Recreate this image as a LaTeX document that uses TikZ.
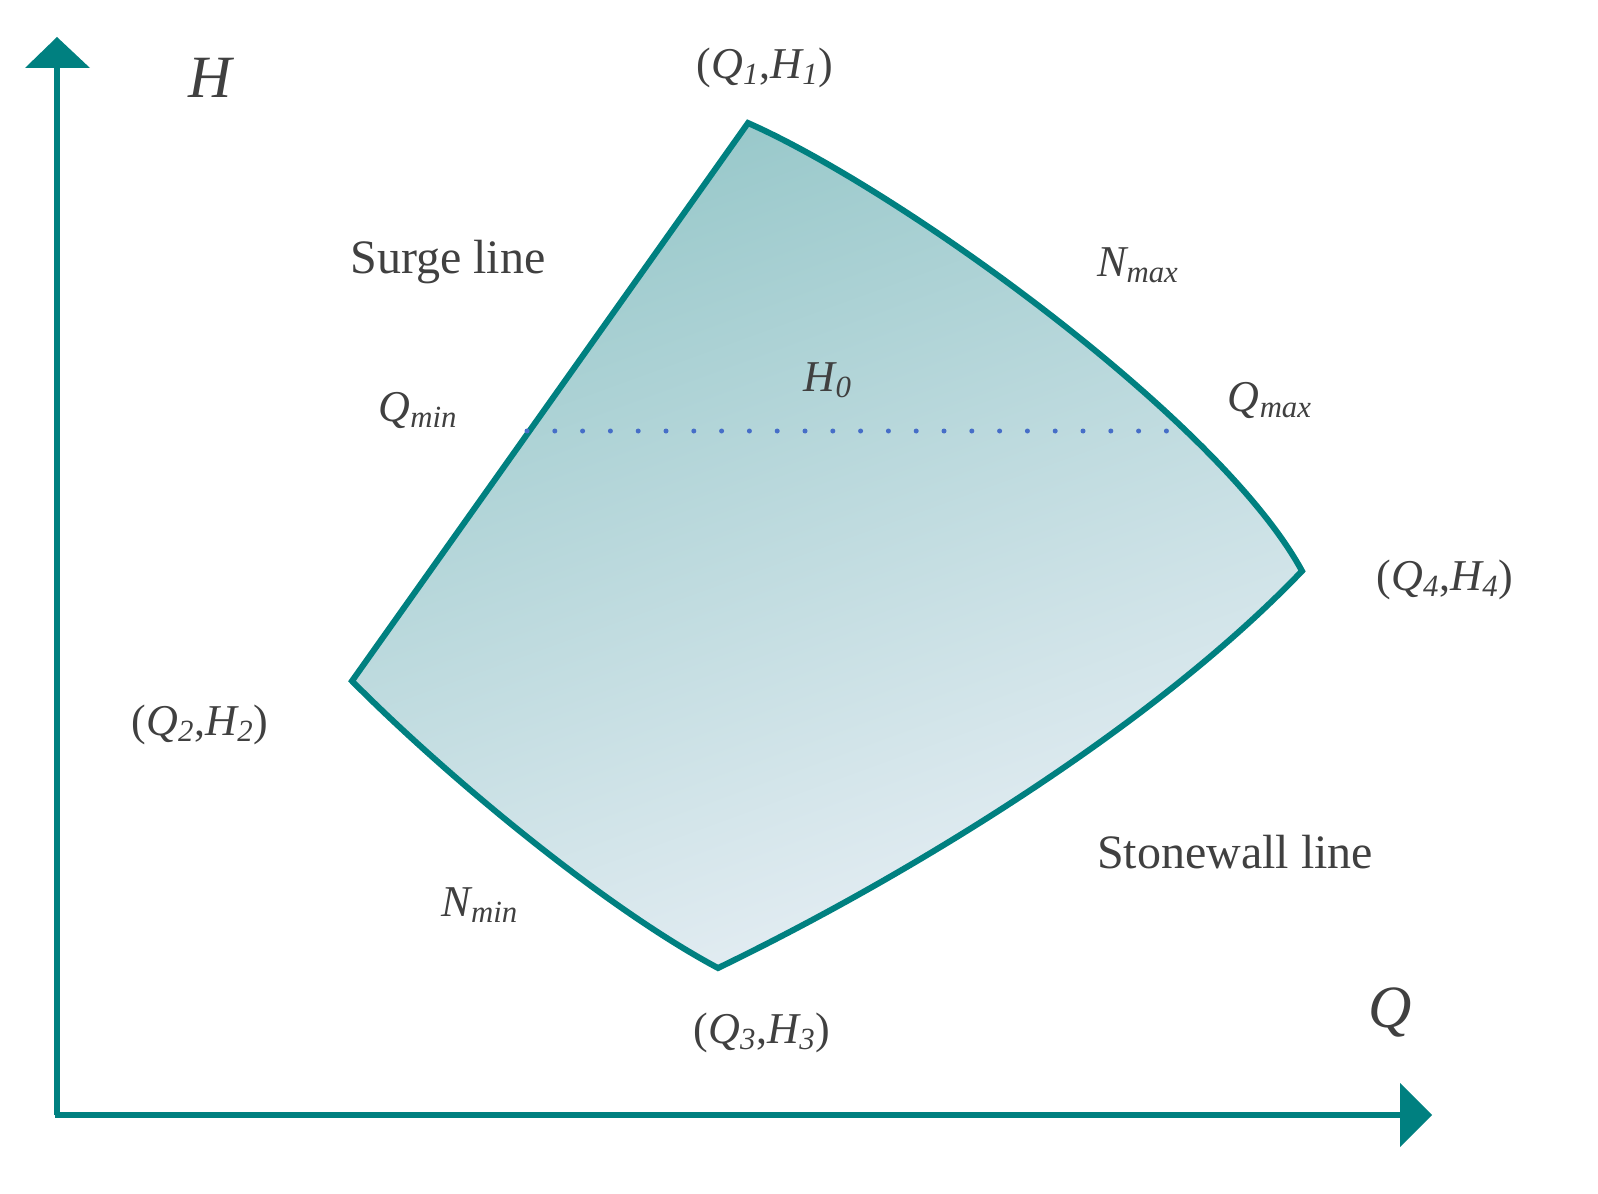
\documentclass[tikz,border=0pt]{standalone}
\usepackage{fontspec}
\setmainfont{Liberation Serif}
\definecolor{teal1}{RGB}{0,128,128}
\definecolor{topc}{RGB}{152,200,202}
\definecolor{botc}{RGB}{232,239,245}
\definecolor{dotc}{RGB}{70,110,200}
\begin{document}
\begin{tikzpicture}[x=0.5pt,y=-0.5pt,
  lab/.style={font=\fontsize{22}{26}\selectfont\itshape, text=black!75},
  txt/.style={font=\fontsize{24}{28}\selectfont, text=black!75},
  edge/.style={draw=teal1,line width=3pt,line join=miter}]
\useasboundingbox (0,0) rectangle (1598,1193);
\coordinate (o) at (57,1115);
\coordinate (yt) at (57,68);
\coordinate (xt) at (1400,1115);
\draw[teal1,line width=3pt] (o) -- (yt);
\draw[teal1,line width=3pt] (55,1115) -- (xt);
\fill[teal1] (25,68) -- (57,37) -- (90,68) -- cycle;
\fill[teal1] (1400,1083) -- (1432,1115) -- (1400,1147) -- cycle;
\coordinate (p1) at (748,123);
\coordinate (p2) at (352,681);
\coordinate (p3) at (718,968);
\coordinate (p4) at (1302,571);
\shade[top color=topc,bottom color=botc,shading angle=20]
  (p1) .. controls (900,190) and (1220,420) .. (p4)
  .. controls (1150,730) and (900,880) .. (p3)
  .. controls (600,905) and (440,770) .. (p2) -- cycle;
\draw[edge] (p1) .. controls (900,190) and (1220,420) .. (p4)
  .. controls (1150,730) and (900,880) .. (p3)
  .. controls (600,905) and (440,770) .. (p2) -- cycle;
\coordinate (d1) at (527,431);
\coordinate (d2) at (1172,431);
\draw[dotc,line width=2.5pt,line cap=round,dash pattern=on 0pt off 13.9pt] (d1) -- (d2);
\node[lab,font=\fontsize{30}{34}\selectfont\itshape] (h) at (210,78) {H};
\node[lab,font=\fontsize{30}{34}\selectfont\itshape] (q) at (1390,1012) {Q};
\node[lab] (l1) at (765,68) {\upshape(\itshape Q\textsubscript{1}\upshape,\itshape H\textsubscript{1}\upshape)};
\node[lab] (l2) at (200,725) {\upshape(\itshape Q\textsubscript{2}\upshape,\itshape H\textsubscript{2}\upshape)};
\node[lab] (l3) at (762,1033) {\upshape(\itshape Q\textsubscript{3}\upshape,\itshape H\textsubscript{3}\upshape)};
\node[lab] (l4) at (1445,580) {\upshape(\itshape Q\textsubscript{4}\upshape,\itshape H\textsubscript{4}\upshape)};
\node[txt] (s) at (448,262) {Surge line};
\node[txt] (sw) at (1235,852) {Stonewall line};
\node[lab] (nmax) at (1138,265) {N\textsubscript{max}};
\node[lab] (nmin) at (480,905) {N\textsubscript{min}};
\node[lab] (qmin) at (418,410) {Q\textsubscript{min}};
\node[lab] (qmax) at (1270,400) {Q\textsubscript{max}};
\node[lab] (h0) at (828,380) {H\textsubscript{0}};
\end{tikzpicture}
\end{document}
